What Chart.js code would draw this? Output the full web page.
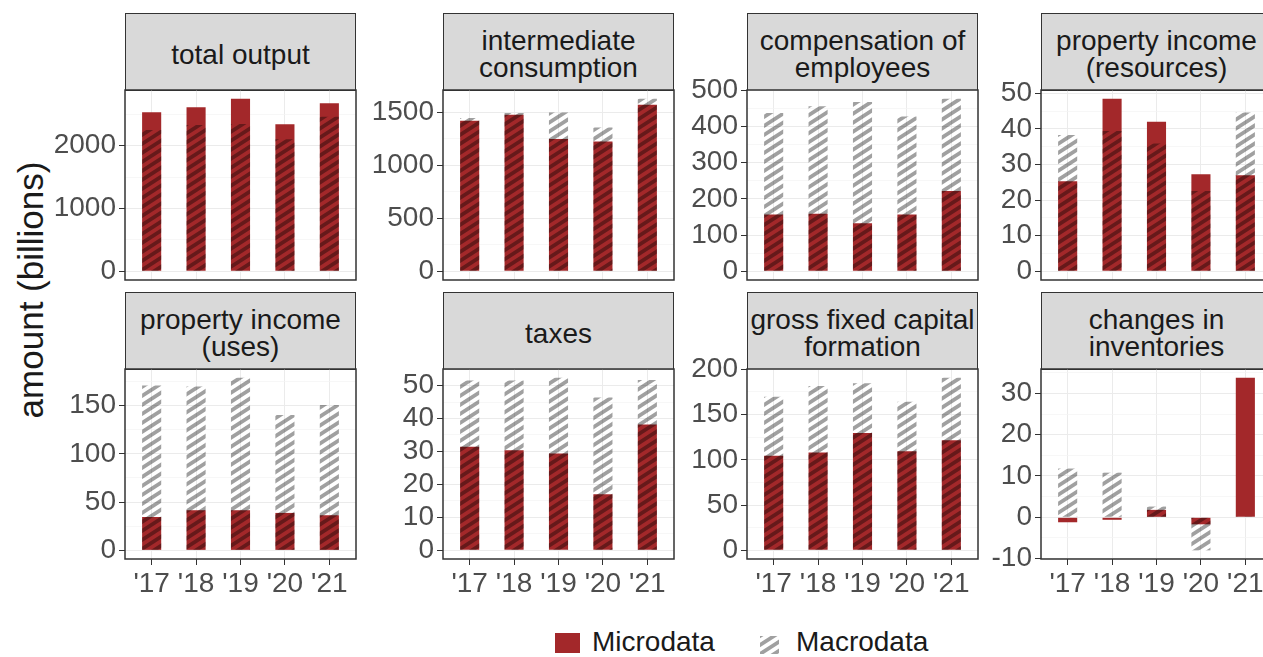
<!DOCTYPE html>
<html>
<head>
<meta charset="utf-8">
<script src="https://cdn.jsdelivr.net/npm/chart.js@4.4.1/dist/chart.umd.min.js"></script>
<style>
  html, body { margin: 0; padding: 0; background: #fff; }
  #fig { position: relative; width: 1263px; height: 657px; overflow: hidden; font-family: "Liberation Sans", Arial, sans-serif; }
  .strip { position: absolute; box-sizing: border-box; background: #d9d9d9; border: 1.5px solid #333;
           display: flex; align-items: center; justify-content: center; text-align: center; padding-top: 6px;
           font-size: 28px; line-height: 0.95; color: #1a1a1a; white-space: pre; }
  .panel { position: absolute; }
  #ytitle { position: absolute; left: 31px; top: 290px; transform: translate(-50%, -50%) rotate(-90deg);
            font-size: 35px; color: #1a1a1a; white-space: nowrap; }
  .legtxt { position: absolute; font-size: 28px; color: #1a1a1a; top: 626px; }
</style>
</head>
<body>
<div id="fig">
  <div id="ytitle">amount (billions)</div>
  <div style="position:absolute;left:555px;top:633px;width:25px;height:20px;background:#a3282a"></div>
  <div class="legtxt" style="left:592px">Microdata</div>
  <canvas id="legHatch" width="19" height="18" style="position:absolute;left:760px;top:636px"></canvas>
  <div class="legtxt" style="left:796px">Macrodata</div>
</div>
<script>
// años y series (miles de millones)
const years = ["'17", "'18", "'19", "'20", "'21"];

const titles = [
  "total output", "intermediate\nconsumption", "compensation of\nemployees", "property income\n(resources)",
  "property income\n(uses)", "taxes", "gross fixed capital\nformation", "changes in\ninventories"
];

const microTotalOutput = [2533, 2613, 2750, 2341, 2676];
const macroTotalOutput = [2250, 2330, 2346, 2102, 2463];
const microIntermediate = [1422, 1479, 1248, 1226, 1573];
const macroIntermediate = [1447, 1495, 1500, 1358, 1630];
const microCompensation = [157, 159, 133, 157, 222];
const macroCompensation = [437, 456, 468, 428, 477];
const microPropResources = [25.3, 48.5, 42.0, 27.3, 27.0];
const macroPropResources = [38.3, 39.4, 35.9, 22.6, 44.6];
const microPropUses = [34.6, 41.6, 41.6, 38.8, 36.4];
const macroPropUses = [170.8, 169.8, 179.0, 140.3, 150.7];
const microTaxes = [31.4, 30.4, 29.4, 17.0, 38.2];
const macroTaxes = [51.5, 51.5, 52.4, 46.4, 51.7];
const microGFCF = [104.4, 108.1, 129.6, 109.3, 121.5];
const macroGFCF = [169.6, 181.5, 184.4, 164.1, 190.7];
const microInventories = [-1.2, -0.6, 1.8, -1.7, 33.8];
const macroInventories = [11.8, 10.8, 2.6, -8.0, 0.2];

// paso entre etiquetas del eje y de cada panel
const majorSteps = [1000, 500, 100, 10, 50, 10, 50, 10];

const microSeries = [microTotalOutput, microIntermediate, microCompensation, microPropResources,
                     microPropUses, microTaxes, microGFCF, microInventories];
const macroSeries = [macroTotalOutput, macroIntermediate, macroCompensation, macroPropResources,
                     macroPropUses, macroTaxes, macroGFCF, macroInventories];

const RED = "#a3282a";
const HATCH_GREY = "#a0a0a0";

// patrón de rayas diagonales para Macrodata
function makeHatch(color) {
  const w = 14, h = 9;
  const c = document.createElement("canvas");
  c.width = w; c.height = h;
  const g = c.getContext("2d");
  g.strokeStyle = color;
  g.lineWidth = 3.8;
  for (let k = -2; k <= 2; k++) {
    g.beginPath();
    g.moveTo(-w, 2 * h + k * h);
    g.lineTo(2 * w, -h + k * h);
    g.stroke();
  }
  return c;
}
const hatchTile = makeHatch(HATCH_GREY);

// icono de la leyenda
const lg = document.getElementById("legHatch").getContext("2d");
lg.fillStyle = lg.createPattern(hatchTile, "repeat");
lg.fillRect(0, 0, 19, 18);

// las rayas se multiplican sobre la barra roja
const multiplyHatch = {
  id: "multiplyHatch",
  beforeDatasetDraw(chart, args) {
    if (chart.data.datasets[args.index].label === "Macrodata") {
      chart.ctx.save();
      chart.ctx.globalCompositeOperation = "multiply";
    }
  },
  afterDatasetDraw(chart, args) {
    if (chart.data.datasets[args.index].label === "Macrodata") chart.ctx.restore();
  }
};

const panelBorder = {
  id: "panelBorder",
  afterDraw(chart) {
    const a = chart.chartArea, ctx = chart.ctx;
    ctx.save();
    ctx.strokeStyle = "#333";
    ctx.lineWidth = 1.5;
    ctx.strokeRect(a.left, a.top, a.right - a.left, a.bottom - a.top);
    ctx.restore();
  }
};

// geometría de la rejilla de paneles
const colLefts = [125, 443, 747, 1041];
const plotW = 231, plotH = 190, stripH = 77;
const rowStripTops = [13, 292];
const axisW = 78, xAxisH = 48, pad = 20;

const fig = document.getElementById("fig");

function isMajor(v, step) {
  return Math.abs(v / step - Math.round(v / step)) < 1e-6;
}

for (let p = 0; p < 8; p++) {
  const row = Math.floor(p / 4), col = p % 4;
  const left = colLefts[col];
  const plotTop = rowStripTops[row] + stripH;
  const bottomRow = row === 1;

  const strip = document.createElement("div");
  strip.className = "strip";
  strip.style.left = left + "px";
  strip.style.top = rowStripTops[row] + "px";
  strip.style.width = plotW + "px";
  strip.style.height = (stripH + 1) + "px";
  strip.textContent = titles[p];
  fig.appendChild(strip);

  const micro = microSeries[p], macro = macroSeries[p];
  const all = micro.concat(macro, [0]);
  const lo = Math.min(...all), hi = Math.max(...all);
  const ext = 0.05 * (hi - lo);
  const step = majorSteps[p];

  const canvas = document.createElement("canvas");
  canvas.className = "panel";
  const cw = axisW + plotW + 2, ch = pad + plotH + (bottomRow ? xAxisH : pad);
  canvas.width = cw; canvas.height = ch;
  canvas.style.left = (left - axisW) + "px";
  canvas.style.top = (plotTop - pad) + "px";
  canvas.style.width = cw + "px";
  canvas.style.height = ch + "px";
  fig.appendChild(canvas);

  new Chart(canvas, {
    type: "bar",
    data: {
      datasets: [
        {
          label: "Microdata",
          data: micro.map((v, i) => ({ x: i + 1, y: v })),
          backgroundColor: RED,
          borderWidth: 0,
          grouped: false,
          order: 2,
          categoryPercentage: 1,
          barPercentage: 0.43
        },
        {
          label: "Macrodata",
          data: macro.map((v, i) => ({ x: i + 1, y: v })),
          backgroundColor: canvas.getContext("2d").createPattern(hatchTile, "repeat"),
          borderWidth: 0,
          grouped: false,
          order: 1,
          categoryPercentage: 1,
          barPercentage: 0.43
        }
      ]
    },
    options: {
      responsive: false,
      animation: false,
      events: [],
      layout: { padding: { top: pad, right: 2, left: 0, bottom: bottomRow ? 0 : pad } },
      plugins: { legend: { display: false }, tooltip: { enabled: false } },
      scales: {
        x: {
          type: "linear",
          offset: false,
          min: 0.4,
          max: 5.6,
          border: { display: false },
          grid: {
            offset: false,
            color: "#ebebeb",
            lineWidth: 1,
            drawTicks: bottomRow,
            tickLength: 6,
            tickColor: "#333"
          },
          ticks: {
            display: bottomRow,
            autoSkip: false,
            maxRotation: 0,
            padding: 2,
            color: "#4d4d4d",
            font: { family: "'Liberation Sans', Arial, sans-serif", size: 28 },
            callback: v => years[Math.round(v) - 1] ?? ""
          },
          afterBuildTicks: s => { s.ticks = years.map((_, i) => ({ value: i + 1 })); },
          afterFit: s => { s.height = bottomRow ? xAxisH : 0; }
        },
        y: {
          min: lo - ext,
          max: hi + ext,
          border: { display: false },
          grid: {
            color: c => isMajor(c.tick.value, step) ? "#ebebeb" : "#f4f4f4",
            lineWidth: c => isMajor(c.tick.value, step) ? 1 : 0.7,
            tickLength: 6,
            tickColor: c => isMajor(c.tick.value, step) ? "#333" : "rgba(0,0,0,0)"
          },
          ticks: {
            autoSkip: false,
            padding: 3,
            color: "#4d4d4d",
            font: { family: "'Liberation Sans', Arial, sans-serif", size: 28 },
            callback: v => isMajor(v, step) ? String(Math.round(v)) : ""
          },
          // marcas mayores y menores (a medio paso) dentro del rango
          afterBuildTicks: s => {
            const half = step / 2, t = [];
            for (let v = Math.ceil(s.min / half) * half; v <= s.max + 1e-9; v += half) {
              t.push({ value: Math.round(v * 1e6) / 1e6 });
            }
            s.ticks = t;
          },
          afterFit: s => { s.width = axisW; }
        }
      }
    },
    plugins: [multiplyHatch, panelBorder]
  });
}
</script>
</body>
</html>
